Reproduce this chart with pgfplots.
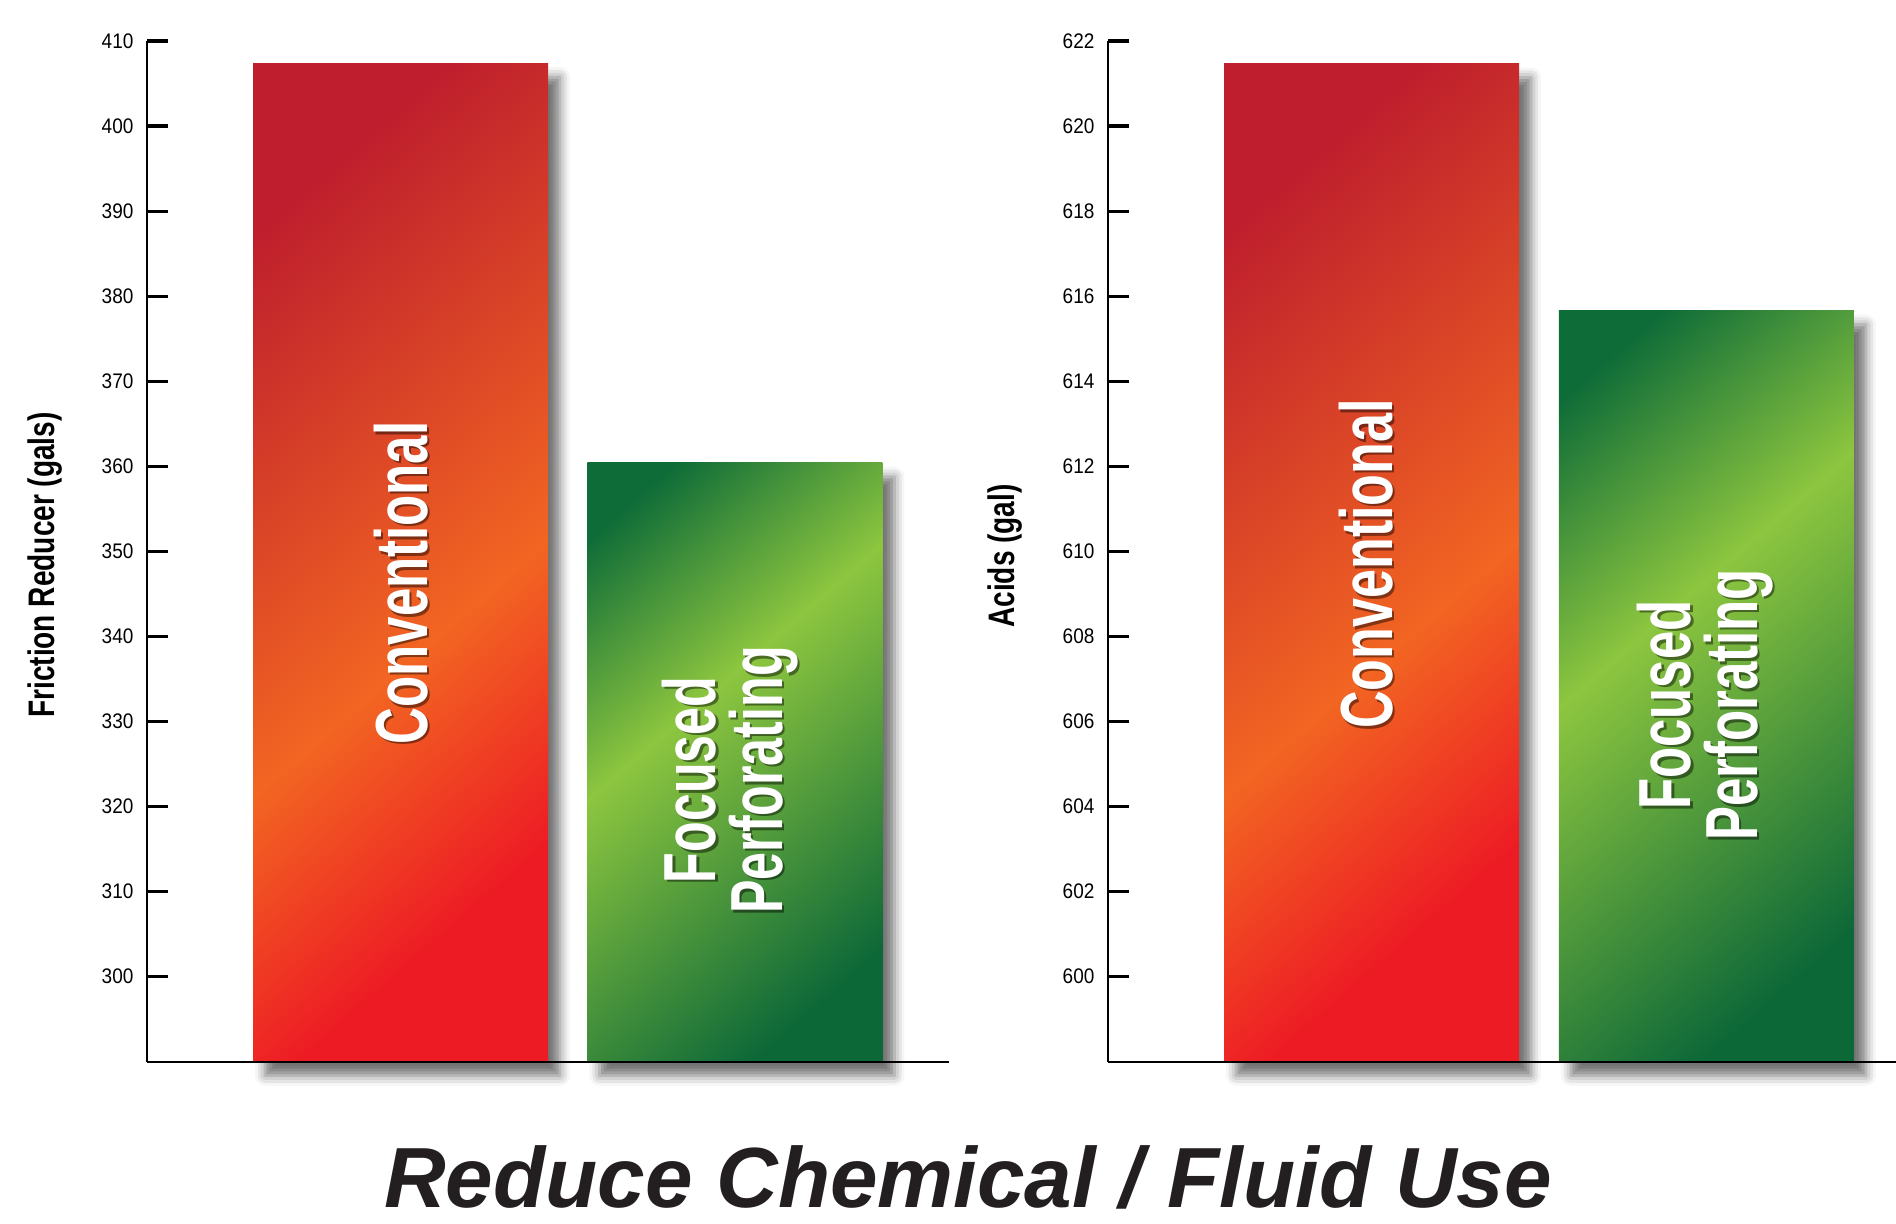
\documentclass[border=0pt]{standalone}
\usepackage{pgfplots}
\pgfplotsset{compat=1.18}
\usepackage{fontspec}
\setmainfont{Liberation Sans}
\usetikzlibrary{shadows.blur}

\definecolor{crimson}{RGB}{190,30,45}
\definecolor{orng}{RGB}{242,101,34}
\definecolor{brightred}{RGB}{237,28,36}
\definecolor{dkgreen}{RGB}{14,108,56}
\definecolor{ltgreen}{RGB}{141,198,63}
\definecolor{dkgreenb}{RGB}{13,104,56}
\definecolor{titlegray}{RGB}{35,31,32}

% diagonal bar gradients (bottom -> top, rotated 41 deg)
\pgfdeclareverticalshading{redbar}{100bp}{color(0bp)=(brightred); color(27bp)=(brightred); color(44bp)=(orng); color(76bp)=(crimson); color(100bp)=(crimson)}
\pgfdeclareverticalshading{greenbar}{100bp}{color(0bp)=(dkgreenb); color(24bp)=(dkgreenb); color(57.5bp)=(ltgreen); color(79bp)=(dkgreen); color(100bp)=(dkgreen)}

\pgfplotsset{
  barchart/.style={
    scale only axis, height=10.207cm, anchor=south west,
    axis x line=bottom, axis y line=left,
    axis line style={-, line width=0.6pt, black},
    xtick=\empty, ymin=0, enlargelimits=false,
    tick align=inside, major tick length=0.21cm,
    every tick/.style={black, line width=0.9pt},
    yticklabel style={font=\fontsize{6}{7}\selectfont, inner sep=0pt, xshift=-0.13cm, xscale=0.9},
    clip=false, axis on top,
  },
  shadowbar/.style={ybar, bar width=2.95cm, bar shift=0pt, draw=none, shade, shading angle=41,
    blur shadow={shadow xshift=0.12cm, shadow yshift=-0.14cm, shadow blur radius=0.1cm, shadow opacity=55}},
}

\tikzset{barlbl/.style={rotate=90, font=\bfseries\fontsize{21}{19}\selectfont, align=center, inner sep=0pt}}
% #4 = horizontal condensing of the label
\newcommand{\barlabel}[4]{%
  \node[xshift=0.025cm, yshift=-0.025cm, barlbl, xscale=#4, text=black, opacity=0.45] at (#1,#2) {#3};
  \node[barlbl, xscale=#4, text=white] at (#1,#2) {#3};}

\begin{document}
\begin{tikzpicture}
\useasboundingbox (0,0) rectangle (18.96,12.23);

% left chart: friction reducer
\begin{axis}[barchart, at={(1.47cm,1.613cm)}, width=8.02cm,
  xmin=-0.758, xmax=1.64, ymax=120,
  y filter/.expression={y-290},
  ytick={10,20,30,40,50,60,70,80,90,100,110,120},
  yticklabels={300,310,320,330,340,350,360,370,380,390,400,410}]
\addplot[shadowbar, shading=redbar] coordinates {(0,407.4)};
\addplot[shadowbar, shading=greenbar] coordinates {(1,360.4)};
\end{axis}

% right chart: acids
\begin{axis}[barchart, at={(11.08cm,1.613cm)}, width=7.88cm,
  xmin=-0.787, xmax=1.566, ymax=24,
  y filter/.expression={y-598},
  ytick={2,4,6,8,10,12,14,16,18,20,22,24},
  yticklabels={600,602,604,606,608,610,612,614,616,618,620,622}]
\addplot[shadowbar, shading=redbar] coordinates {(0,621.47)};
\addplot[shadowbar, shading=greenbar] coordinates {(1,615.66)};
\end{axis}

\barlabel{4.01}{6.40}{Conventional}{0.69}
\barlabel{7.30}{4.43}{Focused\\Perforating}{0.68}
\barlabel{13.66}{6.59}{Conventional}{0.705}
\barlabel{17.05}{5.18}{Focused\\Perforating}{0.69}

\node[rotate=90, xscale=0.76, font=\bfseries\fontsize{10.5}{12}\selectfont] at (0.455,6.58) {Friction Reducer (gals)};
\node[rotate=90, xscale=0.76, font=\bfseries\fontsize{10.5}{12}\selectfont] at (10.05,6.67) {Acids (gal)};

\node[anchor=base, text=titlegray, font=\bfseries\itshape\fontsize{24.3}{29}\selectfont] at (9.68,0.16) {Reduce Chemical / Fluid Use};
\end{tikzpicture}
\end{document}
